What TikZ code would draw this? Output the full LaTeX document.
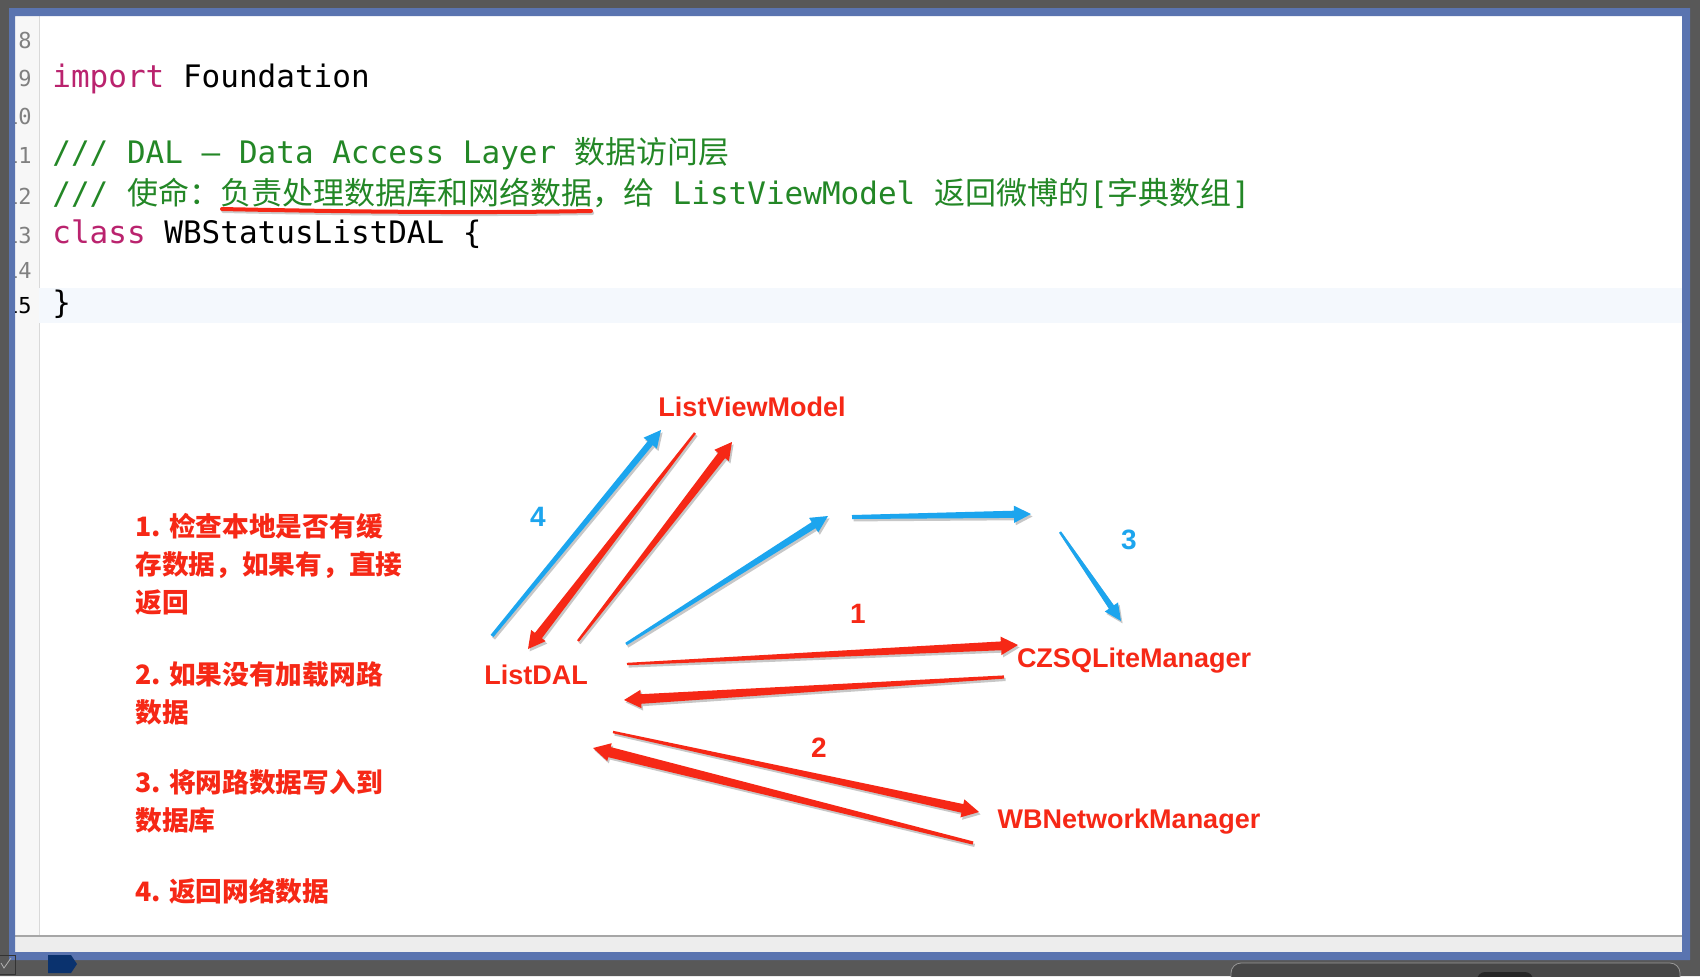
\documentclass[tikz,border=0pt]{standalone}
\usepackage{fontspec}
\setmainfont{Liberation Sans}
\setmonofont{DejaVu Sans Mono}
\newfontfamily\cjk{Noto Sans CJK SC}
\usepackage{xcolor}
\usetikzlibrary{calc,positioning}

\definecolor{skred}{RGB}{246,40,22}
\definecolor{skblue}{RGB}{28,165,238}
\definecolor{kwpink}{RGB}{186,35,110}
\definecolor{cmtgreen}{RGB}{35,135,38}
\definecolor{framebg}{RGB}{88,88,88}
\definecolor{frameblue}{RGB}{90,116,176}
\definecolor{tabblue}{RGB}{10,50,110}
\definecolor{curline}{RGB}{244,248,253}

% tapered arrow: colour, tail, tip, tail/shaft/head half widths
\newcommand\skpath[5]{($(#1)!#3!90:(#2)$) -- ($(hb)!#4!90:(#2)$) -- ($(hb)!#5!90:(#2)$) -- (#2) -- ($(hb)!#5!-90:(#2)$) -- ($(hb)!#4!-90:(#2)$) -- ($(#1)!#3!-90:(#2)$) -- cycle}
\newcommand\skarrow[6]{%
  \coordinate (hb) at ($(#3)!8.5pt!(#2)$);
  \begin{scope}[transform canvas={shift={(0.8pt,-1.2pt)}}]
    \fill[black,opacity=.22] \skpath{#2}{#3}{#4}{#5}{#6};
  \end{scope}
  \fill[#1] \skpath{#2}{#3}{#4}{#5}{#6};
}

\begin{document}
\begin{tikzpicture}[x=0.5pt,y=-0.5pt,
  code/.style={anchor=base west,inner sep=0pt,font=\fontsize{15.5}{18}\selectfont\ttfamily},
  lnum/.style={anchor=base east,inner sep=0pt,font=\fontsize{11}{13}\selectfont\ttfamily,text=black!50},
  lbl/.style={anchor=base,inner sep=0pt,text=skred,font=\fontsize{13.5}{15}\selectfont\bfseries},
  num/.style={inner sep=0pt,font=\fontsize{14}{16}\selectfont\bfseries},
  note/.style={anchor=base west,inner sep=0pt,align=left,text=skred,font=\fontsize{13.35}{18.8}\selectfont\cjk\bfseries}]
\useasboundingbox (0,0) rectangle (1700,976);
% editor
\fill[framebg] (0,0) rectangle (1700,976);
\fill[white] (15,16) rectangle (1682,935);
\fill[black!3] (15,16) rectangle (39,935);
\draw[black!15] (39,16) -- (39,935);
\fill[curline] (39,288) rectangle (1682,323);
\fill[black!7] (15,937) rectangle (1682,952);
\draw[black!35,line width=1pt] (15,936) -- (1682,936);

\foreach \n/\b in {8/48,9/86,10/124,11/163,12/204,13/243,14/278}
  \node[lnum] (ln\n) at (32,\b) {\n};
\node[lnum,text=black] (ln15) at (32,313) {15};

\node[code] (c9) at (52,87) {\textcolor{kwpink}{import} Foundation};
\node[code,text=cmtgreen] (c11) at (52,163) {/// DAL – Data Access Layer {\cjk 数据访问层}};
\node[code,text=cmtgreen] (c12) at (52,204) {/// {\cjk 使命：负责处理数据库和网络数据，给} ListViewModel {\cjk 返回微博的}[{\cjk 字典数组}]};
\node[code] (c13) at (52,243) {\textcolor{kwpink}{class} WBStatusListDAL \{};
\node[code] (c15) at (52,313) {\}};

\begin{scope}[transform canvas={shift={(0.6pt,-1pt)}}]
  \draw[black,opacity=.2,line width=2pt,line cap=round] (222,209) .. controls (360,212) and (480,213) .. (591,211);
\end{scope}
\draw[skred,line width=2pt,line cap=round] (222,209) .. controls (360,212) and (480,213) .. (591,211);

% window frame
\fill[framebg,even odd rule] (0,0) rectangle (1700,976) (9,8) rectangle (1690,960);
\fill[frameblue,even odd rule] (9,8) rectangle (1690,960) (15,16) rectangle (1682,952);
\fill[tabblue] (48,955) -- (71,955) -- (77,964) -- (71,973) -- (48,973) -- cycle;
\draw[black!80] (-2,955) rectangle (15,974);
\draw[black!30] (1,963) -- (4,968) -- (11,958);
\draw[fill=black!72,draw=black!40,rounded corners=5] (1231,963) rectangle (1680,996);
\fill[black!85,rounded corners=4] (1477,972) rectangle (1533,996);

% arrows
\coordinate (b1s) at (492,636); \coordinate (b1e) at (661,430);
\coordinate (b2s) at (626,644); \coordinate (b2e) at (828,516);
\coordinate (b3s) at (852,517); \coordinate (b3e) at (1031,514);
\coordinate (b4s) at (1060,532); \coordinate (b4e) at (1121,621);
\coordinate (r1s) at (695,433); \coordinate (r1e) at (528,649);
\coordinate (r2s) at (578,641); \coordinate (r2e) at (732,442);
\coordinate (r3s) at (627,664); \coordinate (r3e) at (1018,645);
\coordinate (r4s) at (1004,677); \coordinate (r4e) at (624,700);
\coordinate (r5s) at (613,732); \coordinate (r5e) at (979,812);
\coordinate (r6s) at (973,843); \coordinate (r6e) at (593,748);
\skarrow{skblue}{b1s}{b1e}{0.9pt}{1.6pt}{4.3pt}
\skarrow{skblue}{b2s}{b2e}{0.7pt}{1.8pt}{4.3pt}
\skarrow{skblue}{b3s}{b3e}{1pt}{1.8pt}{4.3pt}
\skarrow{skblue}{b4s}{b4e}{0.6pt}{1.5pt}{4pt}
\skarrow{skred}{r1s}{r1e}{0.6pt}{2.2pt}{4.6pt}
\skarrow{skred}{r2s}{r2e}{0.6pt}{2.2pt}{4.6pt}
\skarrow{skred}{r3s}{r3e}{0.6pt}{2.2pt}{4.6pt}
\skarrow{skred}{r4s}{r4e}{0.8pt}{2.4pt}{4.6pt}
\skarrow{skred}{r5s}{r5e}{0.6pt}{2.2pt}{4.6pt}
\skarrow{skred}{r6s}{r6e}{0.8pt}{2.6pt}{4.6pt}

% labels
\node[lbl] (vm) at (752,416) {ListViewModel};
\node[lbl] (dal) at (536,684) {ListDAL};
\node[lbl] (sql) at (1134,667) {CZSQLiteManager};
\node[lbl] (net) at (1129,828) {WBNetworkManager};
\node[num,text=skblue] (n4) at (538,517) {4};
\node[num,text=skred] (n1) at (858,614) {1};
\node[num,text=skblue] (n3) at (1129,540) {3};
\node[num,text=skred] (n2) at (819,748) {2};

% notes (base = last line)
\node[note] (s1) at (135,612) {1. 检查本地是否有缓\\存数据，如果有，直接\\返回};
\node[note] (s2) at (135,722) {2. 如果没有加载网路\\数据};
\node[note] (s3) at (135,830) {3. 将网路数据写入到\\数据库};
\node[note] (s4) at (135,901) {4. 返回网络数据};
\end{tikzpicture}
\end{document}
